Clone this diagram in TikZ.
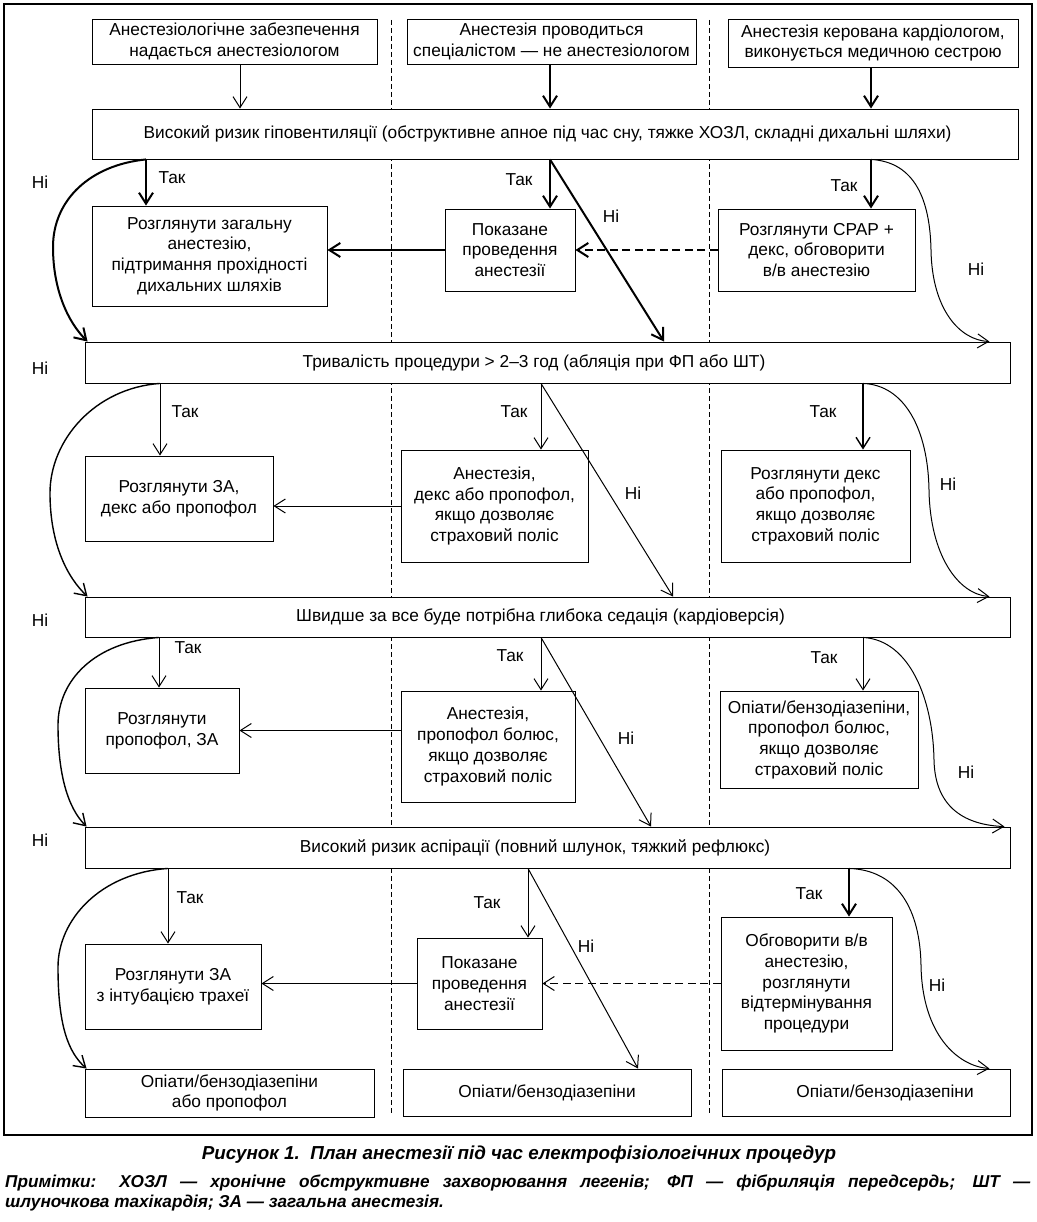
\documentclass[tikz,border=0pt]{standalone}
\usepackage{fontspec}
\setmainfont{Liberation Sans}
\usetikzlibrary{arrows.meta}

\tikzset{
  box/.style={draw, line width=0.9pt, fill=white, align=center, inner sep=1pt,
    font=\fontsize{17.3}{20.7}\selectfont},
  lbl/.style={inner sep=0pt, font=\fontsize{17.3}{20}\selectfont},
  thin arrow/.style={->, line width=1pt},
  mid arrow/.style={->, line width=1.4pt},
  thick arrow/.style={->, line width=2pt},
  lane/.style={line width=0.8pt, dash pattern=on 5pt off 3pt},
  dash arrow/.style={dash pattern=on 8pt off 4.5pt},
  >={Straight Barb[length=11pt,width=14pt]}
}

\begin{document}
\begin{tikzpicture}[x=1pt,y=-1pt]
\useasboundingbox (0,0) rectangle (1036,1222);

% frame and the three lanes
\draw[line width=1.1pt] (4,4) rectangle (1032,1135);
\draw[lane] (391,20) -- (391,1113);
\draw[lane] (709,20) -- (709,1113);

% top row
\node[box, minimum width=285pt, minimum height=45pt] (A1) at (234.5,41.5) {Анестезіологічне забезпечення\\надається анестезіологом};
\node[box, minimum width=289pt, minimum height=45pt] (A2) at (551.5,41.5) {Анестезія проводиться\\спеціалістом — не анестезіологом};
\node[box, minimum width=290pt, minimum height=48pt] (A3) at (873,43) {Анестезія керована кардіологом,\\виконується медичною сестрою};

% question boxes
\node[box, minimum width=926pt, minimum height=50pt] (B1) at (555,134) {\hspace*{-15pt}Високий ризик гіповентиляції (обструктивне апное під час сну, тяжке ХОЗЛ, складні дихальні шляхи)};
\node[box, minimum width=925pt, minimum height=41pt] (D) at (547.5,362.5) {\hspace*{-27pt}Тривалість процедури > 2–3 год (абляція при ФП або ШТ)};
\node[box, minimum width=925pt, minimum height=40pt] (F) at (547.5,617) {\hspace*{-14pt}Швидше за все буде потрібна глибока седація (кардіоверсія)};
\node[box, minimum width=925pt, minimum height=41pt] (H) at (547.5,847.5) {\hspace*{-25pt}Високий ризик аспірації (повний шлунок, тяжкий рефлюкс)};

% answers, row 1
\node[box, minimum width=235pt, minimum height=100pt] (C1) at (209.5,256) {Розглянути загальну\\анестезію,\\підтримання прохідності\\дихальних шляхів};
\node[box, minimum width=130pt, minimum height=82pt] (C2) at (510,250) {Показане\\проведення\\анестезії};
\node[box, minimum width=197pt, minimum height=82pt] (C3) at (816.5,250) {Розглянути CPAP +\\декс, обговорити\\в/в анестезію};

% answers, row 2
\node[box, minimum width=188pt, minimum height=85pt] (E1) at (179,498.5) {Розглянути ЗА,\\декс або пропофол};
\node[box, minimum width=187pt, minimum height=112pt] (E2) at (494.5,506) {Анестезія,\\декс або пропофол,\\якщо дозволяє\\страховий поліс};
\node[box, minimum width=189pt, minimum height=112pt] (E3) at (815.5,506) {Розглянути декс\\або пропофол,\\якщо дозволяє\\страховий поліс};

% answers, row 3
\node[box, minimum width=154pt, minimum height=85pt] (G1) at (162,730.5) {Розглянути\\пропофол, ЗА};
\node[box, minimum width=174pt, minimum height=111pt] (G2) at (488,746.5) {Анестезія,\\пропофол болюс,\\якщо дозволяє\\страховий поліс};
\node[box, minimum width=198pt, minimum height=97pt] (G3) at (819,739.5) {Опіати/бензодіазепіни,\\пропофол болюс,\\якщо дозволяє\\страховий поліс};

% answers, row 4
\node[box, minimum width=176pt, minimum height=85pt] (I1) at (173,986.5) {Розглянути ЗА\\з інтубацією трахеї};
\node[box, minimum width=125pt, minimum height=91pt] (I2) at (479.5,983.5) {Показане\\проведення\\анестезії};
\node[box, minimum width=171pt, minimum height=133pt] (I3) at (806.5,983.5) {Обговорити в/в\\анестезію,\\розглянути\\відтермінування\\процедури};

% bottom row
\node[box, minimum width=289pt, minimum height=48pt] (J1) at (229.5,1093) {Опіати/бензодіазепіни\\або пропофол};
\node[box, minimum width=288pt, minimum height=47pt] (J2) at (547,1092.5) {Опіати/бензодіазепіни};
\node[box, minimum width=288pt, minimum height=47pt] (J3) at (866,1092.5) {\hspace*{30pt}Опіати/бензодіазепіни\hspace*{-8pt}};

% columns of the arrows
\coordinate (a1) at (240,0);
\coordinate (a2) at (550,0);
\coordinate (a3) at (871,0);
\coordinate (l1) at (146,0);
\coordinate (m1) at (550,0);
\coordinate (r1) at (871,0);
\coordinate (d1) at (664,0);
\coordinate (l2) at (160,0);
\coordinate (m2) at (541,0);
\coordinate (r2) at (863,0);
\coordinate (d2) at (673,0);
\coordinate (l3) at (159,0);
\coordinate (m3) at (541,0);
\coordinate (r3) at (863,0);
\coordinate (d3) at (651,0);
\coordinate (l4) at (168,0);
\coordinate (m4) at (528,0);
\coordinate (r4) at (849,0);
\coordinate (d4) at (638,0);

% top arrows
\draw[thin arrow] (A1.south -| a1) -- (B1.north -| a1);
\draw[thick arrow] (A2.south -| a2) -- (B1.north -| a2);
\draw[thick arrow] (A3.south -| a3) -- (B1.north -| a3);

% row 1
\draw[thick arrow] (B1.south -| l1) -- (C1.north -| l1);
\draw[thick arrow] (B1.south -| m1) -- (C2.north -| m1);
\draw[thick arrow] (B1.south -| r1) -- (C3.north -| r1);
\draw[thick arrow] (B1.south -| m1) -- (D.north -| d1);
\draw[thick arrow] (C2.west) -- (C2.west -| C1.east);
\draw[thick arrow, dash arrow] (C3.west) -- (C2.east);
\draw[thick arrow] (B1.south -| l1) .. controls (90,165) and (53,200) .. (53,247)
  .. controls (53,290) and (68,322) .. ([xshift=3pt]D.north west);
\draw[thin arrow] (B1.south -| r1) .. controls (915,162) and (930,200) .. (931,250)
  .. controls (932,310) and (960,340) .. ([xshift=-21pt]D.north east);

% row 2
\draw[thin arrow] (D.south -| l2) -- (E1.north -| l2);
\draw[thin arrow] (D.south -| m2) -- (E2.north -| m2);
\draw[mid arrow] (D.south -| r2) -- (E3.north -| r2);
\draw[thin arrow] (D.south -| m2) -- (F.north -| d2);
\draw[thin arrow] (E2.west) -- (E2.west -| E1.east);
\draw[mid arrow] (D.south -| l2) .. controls (95,388) and (50,440) .. (50,493)
  .. controls (50,545) and (68,578) .. ([xshift=3pt]F.north west);
\draw[thin arrow] (D.south -| r2) .. controls (905,385) and (928,430) .. (929,490)
  .. controls (930,555) and (958,594) .. ([xshift=-21pt]F.north east);

% row 3
\draw[thin arrow] (F.south -| l3) -- (G1.north -| l3);
\draw[thin arrow] (F.south -| m3) -- (G2.north -| m3);
\draw[thin arrow] (F.south -| r3) -- (G3.north -| r3);
\draw[thin arrow] (F.south -| m3) -- (H.north -| d3);
\draw[thin arrow] ([yshift=16pt]G2.west) -- ([yshift=16pt]G2.west -| G1.east);
\draw[mid arrow] (F.south -| l3) .. controls (95,642) and (58,680) .. (58,725)
  .. controls (58,775) and (68,808) .. ([xshift=2pt]H.north west);
\draw[thin arrow] (F.south -| r3) .. controls (910,640) and (933,700) .. (934,760)
  .. controls (935,810) and (968,825) .. ([xshift=-6pt]H.north east);

% row 4
\draw[thin arrow] (H.south -| l4) -- (I1.north -| l4);
\draw[thin arrow] (H.south -| m4) -- (I2.north -| m4);
\draw[thick arrow] (H.south -| r4) -- (I3.north -| r4);
\draw[thin arrow] (H.south -| m4) -- (J2.north -| d4);
\draw[thin arrow] (I2.west) -- (I2.west -| I1.east);
\draw[thin arrow, dash arrow] (I3.west) -- (I2.east);
\draw[mid arrow] (H.south -| l4) .. controls (100,873) and (58,920) .. (58,967)
  .. controls (58,1025) and (68,1052) .. ([xshift=2pt]J1.north west);
\draw[thin arrow] (H.south -| r4) .. controls (898,870) and (920,910) .. (921,965)
  .. controls (922,1035) and (958,1066) .. ([xshift=-21pt]J3.north east);

% Так / Ні
\node[lbl] (t1) at (172,178) {Так};
\node[lbl] (t2) at (519,180) {Так};
\node[lbl] (t3) at (844,186) {Так};
\node[lbl] (n1) at (40,182) {Ні};
\node[lbl] (n2) at (611,216) {Ні};
\node[lbl] (n3) at (976,269) {Ні};

\node[lbl] (t4) at (185,412) {Так};
\node[lbl] (t5) at (514,412) {Так};
\node[lbl] (t6) at (823,412) {Так};
\node[lbl] (n4) at (40,368) {Ні};
\node[lbl] (n5) at (633,493) {Ні};
\node[lbl] (n6) at (948,484) {Ні};

\node[lbl] (t7) at (188,648) {Так};
\node[lbl] (t8) at (510,656) {Так};
\node[lbl] (t9) at (824,658) {Так};
\node[lbl] (n7) at (40,620) {Ні};
\node[lbl] (n8) at (626,738) {Ні};
\node[lbl] (n9) at (966,772) {Ні};

\node[lbl] (t10) at (190,898) {Так};
\node[lbl] (t11) at (487,903) {Так};
\node[lbl] (t12) at (809,894) {Так};
\node[lbl] (n10) at (40,840) {Ні};
\node[lbl] (n11) at (586,946) {Ні};
\node[lbl] (n12) at (937,985) {Ні};

% caption and notes
\node[inner sep=0pt, font=\fontsize{18.8}{22}\selectfont\bfseries\itshape] (cap) at (519,1155)
  {Рисунок 1.\ \ План анестезії під час електрофізіологічних процедур};
\node[anchor=north west, inner sep=0pt, text width=1025pt, align=justify,
  font=\fontsize{17.2}{20}\selectfont\bfseries\itshape] (notes) at (5,1175)
  {Примітки: ХОЗЛ — хронічне обструктивне захворювання легенів; ФП — фібриляція передсердь; ШТ —\linebreak шлуночкова тахікардія; ЗА — загальна анестезія.};
\end{tikzpicture}
\end{document}
